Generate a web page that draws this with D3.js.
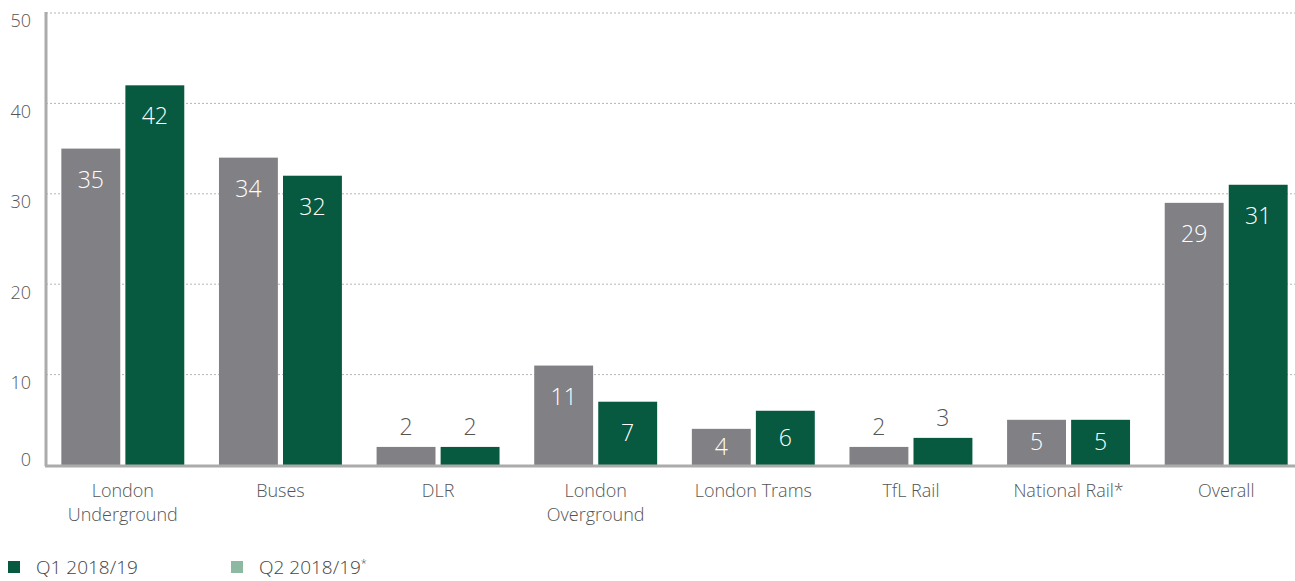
<!DOCTYPE html>
<html>
<head>
<meta charset="utf-8">
<script src="https://cdn.jsdelivr.net/npm/d3@7"></script>
<style>
  body { margin: 0; background: #fff; }
  svg text { font-family: "Open Sans", Lato, sans-serif; font-weight: 300; }
</style>
</head>
<body>
<svg id="chart" width="1295" height="581"></svg>
<script>
const categories = ["London Underground", "Buses", "DLR", "London Overground", "London Trams", "TfL Rail", "National Rail*", "Overall"];
const q1Values = [35, 34, 2, 11, 4, 2, 5, 29];
const q2Values = [42, 32, 2, 7, 6, 3, 5, 31];
const yTicks = [0, 10, 20, 30, 40, 50];
const seriesNames = ["Q1 2018/19", "Q2 2018/19"];

const svg = d3.select("#chart");
const width = 1295;

// scales
const x = d3.scaleBand()
  .domain(categories)
  .range([44, 1305])
  .paddingInner(0.22)
  .paddingOuter(0.11);

const xSub = d3.scaleBand()
  .domain([0, 1])
  .range([0, x.bandwidth()])
  .paddingInner(0.08);

const y = d3.scaleLinear()
  .domain([0, 50])
  .range([465, 13]);

const barColors = ["#818185", "#075a40"];

// gridlines
svg.append("g")
  .selectAll("line")
  .data(yTicks.filter(d => d > 0))
  .enter()
  .append("line")
  .attr("x1", 46)
  .attr("x2", width)
  .attr("y1", d => y(d))
  .attr("y2", d => y(d))
  .attr("stroke", "#b5b5b5")
  .attr("stroke-width", 1)
  .attr("stroke-dasharray", "2,2");

// y tick labels
svg.append("g")
  .selectAll("text")
  .data(yTicks)
  .enter()
  .append("text")
  .attr("x", 31)
  .attr("y", d => d === 0 ? y(d) - 5 : y(d) + 8)
  .attr("dy", "0.35em")
  .attr("text-anchor", "end")
  .attr("fill", "#555")
  .attr("font-size", 18)
  .text(d => d);

// bars
const data = categories.map((c, i) => ({ cat: c, values: [q1Values[i], q2Values[i]] }));

const groups = svg.append("g")
  .selectAll("g")
  .data(data)
  .enter()
  .append("g")
  .attr("transform", d => "translate(" + x(d.cat) + ",0)");

const bars = groups.selectAll("g")
  .data(d => d.values.map((v, i) => ({ v: v, i: i })))
  .enter()
  .append("g");

bars.append("rect")
  .attr("x", d => xSub(d.i))
  .attr("width", xSub.bandwidth())
  .attr("y", d => y(d.v))
  .attr("height", d => y(0) - y(d.v))
  .attr("fill", d => barColors[d.i]);

const small = d => (y(0) - y(d.v)) < 30;

bars.append("text")
  .attr("x", d => xSub(d.i) + xSub.bandwidth() / 2)
  .attr("y", function (d) {
    const top = y(d.v);
    const h = y(0) - top;
    if (small(d)) return top - 20;
    return Math.min(top + h / 2, top + 31);
  })
  .attr("dy", "0.35em")
  .attr("text-anchor", "middle")
  .attr("font-size", 23)
  .attr("fill", d => small(d) ? "#555" : "#fff")
  .text(d => d.v);

// axes lines
svg.append("line")
  .attr("x1", 46).attr("x2", 46)
  .attr("y1", 12).attr("y2", 466)
  .attr("stroke", "#ababab")
  .attr("stroke-width", 3);

svg.append("line")
  .attr("x1", 45).attr("x2", width)
  .attr("y1", 466).attr("y2", 466)
  .attr("stroke", "#ababab")
  .attr("stroke-width", 3);

// x labels
const xLabels = svg.append("g")
  .selectAll("text")
  .data(categories)
  .enter()
  .append("text")
  .attr("x", d => x(d) + x.bandwidth() / 2)
  .attr("y", 491)
  .attr("dy", "0.35em")
  .attr("text-anchor", "middle")
  .attr("fill", "#555")
  .attr("font-size", 18);

xLabels.each(function (d) {
  const words = d.startsWith("London ") && d !== "London Trams" ? ["London", d.slice(7)] : [d];
  const t = d3.select(this);
  words.forEach((w, i) => {
    t.append("tspan")
      .attr("x", x(d) + x.bandwidth() / 2)
      .attr("dy", i === 0 ? "0.35em" : "1.33em")
      .text(w);
  });
});

// legend
const legendColors = ["#075a40", "#8db9a3"];
const legendX = [8, 231];
const legend = svg.append("g")
  .selectAll("g")
  .data(seriesNames)
  .enter()
  .append("g")
  .attr("transform", (d, i) => "translate(" + legendX[i] + ",561)");

legend.append("rect")
  .attr("width", 12)
  .attr("height", 12)
  .attr("fill", (d, i) => legendColors[i]);

const legendText = legend.append("text")
  .attr("x", 28)
  .attr("y", 6)
  .attr("dy", "0.35em")
  .attr("font-size", 19)
  .attr("fill", "#444")
  .text(d => d);

legendText.filter((d, i) => i === 1)
  .append("tspan")
  .attr("dy", "-0.6em")
  .attr("font-size", 11)
  .text("*");
</script>
</body>
</html>
